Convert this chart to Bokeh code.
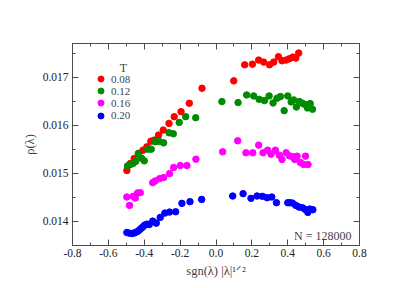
from bokeh.plotting import figure
from bokeh.models import (Range1d, FixedTicker, PrintfTickFormatter, LinearAxis, Label,
                          Legend, LegendItem, CustomJSTickFormatter)
from bokeh.embed import file_html
from bokeh.resources import INLINE

# ---- data ----
temps = ["0.08", "0.12", "0.16", "0.20"]
colors = ["#ff0000", "#008b00", "#ff00ff", "#0000ff"]

x_008 = [-0.497, -0.478, -0.456, -0.432, -0.407, -0.385, -0.363, -0.344, -0.320, -0.294,
         -0.262, -0.233, -0.195, -0.149, -0.078, 0.099, 0.160, 0.203, 0.238, 0.266,
         0.298, 0.322, 0.348, 0.368, 0.391, 0.409, 0.428, 0.445, 0.461]
y_008 = [0.015058, 0.015204, 0.015308, 0.015413, 0.015482, 0.015552, 0.015670, 0.015691, 0.015796, 0.015900,
         0.016039, 0.016178, 0.016283, 0.016457, 0.016770, 0.016923, 0.017257, 0.017271, 0.017355, 0.017313,
         0.017257, 0.017313, 0.017424, 0.017341, 0.017355, 0.017382, 0.017417, 0.017396, 0.017501]

x_012 = [-0.493, -0.478, -0.463, -0.448, -0.433, -0.415, -0.400, -0.380, -0.361, -0.339,
         -0.316, -0.292, -0.262, -0.238, -0.205, -0.169, -0.113, 0.033, 0.123, 0.171,
         0.210, 0.240, 0.270, 0.296, 0.318, 0.340, 0.359, 0.380, 0.400, 0.419,
         0.433, 0.448, 0.465, 0.482, 0.497, 0.510, 0.525, 0.538]
y_012 = [0.015155, 0.015183, 0.015204, 0.015246, 0.015413, 0.015315, 0.015260, 0.015503, 0.015503, 0.015656,
         0.015663, 0.015635, 0.015844, 0.015823, 0.016060, 0.016178, 0.016157, 0.016492, 0.016471, 0.016631,
         0.016610, 0.016540, 0.016513, 0.016610, 0.016464, 0.016561, 0.016596, 0.016304, 0.016610, 0.016485,
         0.016527, 0.016380, 0.016492, 0.016457, 0.016429, 0.016360, 0.016450, 0.016332]

x_016 = [-0.497, -0.482, -0.462, -0.450, -0.437, -0.422, -0.353, -0.339, -0.314, -0.292,
         -0.259, -0.236, -0.199, -0.162, -0.112, 0.037, 0.121, 0.167, 0.205, 0.238,
         0.262, 0.288, 0.307, 0.331, 0.353, 0.368, 0.391, 0.409, 0.428, 0.439,
         0.452, 0.471, 0.489, 0.499, 0.513]
y_016 = [0.014508, 0.014334, 0.014522, 0.014487, 0.014592, 0.014599, 0.014807, 0.014842, 0.014891, 0.014912,
         0.014995, 0.015121, 0.015162, 0.015162, 0.015295, 0.015448, 0.015677, 0.015427, 0.015427, 0.015587,
         0.015427, 0.015482, 0.015399, 0.015482, 0.015378, 0.015288, 0.015427, 0.015364, 0.015343, 0.015288,
         0.015357, 0.015225, 0.015183, 0.015357, 0.015183]

x_020 = [-0.497, -0.482, -0.467, -0.454, -0.441, -0.430, -0.420, -0.409, -0.398, -0.385,
         -0.372, -0.353, -0.333, -0.311, -0.285, -0.259, -0.225, -0.190, -0.145, -0.080,
         0.093, 0.151, 0.195, 0.229, 0.259, 0.285, 0.311, 0.337, 0.400, 0.411,
         0.426, 0.445, 0.463, 0.482, 0.497, 0.512, 0.523, 0.540]
y_020 = [0.013770, 0.013756, 0.013749, 0.013763, 0.013784, 0.013812, 0.013847, 0.013882, 0.013923, 0.013944,
         0.013937, 0.014007, 0.013965, 0.014084, 0.014174, 0.014195, 0.014202, 0.014376, 0.014411, 0.014459,
         0.014529, 0.014578, 0.014480, 0.014529, 0.014522, 0.014494, 0.014508, 0.014390, 0.014390, 0.014390,
         0.014383, 0.014334, 0.014299, 0.014285, 0.014250, 0.014188, 0.014257, 0.014244]

x_ticks = [-0.8, -0.6, -0.4, -0.2, 0.0, 0.2, 0.4, 0.6, 0.8]
x_minor = [-0.7, -0.5, -0.3, -0.1, 0.1, 0.3, 0.5, 0.7]
y_ticks = [0.014, 0.015, 0.016, 0.017]
y_minor = [0.0135, 0.0145, 0.0155, 0.0165, 0.0175]

FONT = "Liberation Serif"
AX = "#4d4d4d"

p = figure(width=400, height=285, output_backend="svg", toolbar_location=None,
           x_range=Range1d(-0.8, 0.8), y_range=Range1d(0.0135, 0.0177),
           min_border_left=72, min_border_right=41, min_border_top=43, min_border_bottom=40)
p.grid.visible = False
p.outline_line_color = AX
p.background_fill_color = "white"

xt = FixedTicker(ticks=x_ticks, minor_ticks=x_minor)
yt = FixedTicker(ticks=y_ticks, minor_ticks=y_minor)

def style_axis(ax, ticker):
    ax.ticker = ticker
    ax.axis_line_color = AX
    ax.major_tick_line_color = AX
    ax.minor_tick_line_color = AX
    ax.major_tick_in = 6
    ax.major_tick_out = 0
    ax.minor_tick_in = 3
    ax.minor_tick_out = 0
    ax.major_label_text_font = FONT
    ax.major_label_text_font_size = "11.5px"
    ax.major_label_text_color = "#222222"

style_axis(p.xaxis[0], xt)
p.xaxis[0].formatter = PrintfTickFormatter(format="%.1f")
p.xaxis[0].major_label_standoff = 3
p.xaxis[0].axis_label = "sgn(λ) |λ|¹ᐟ²"
p.xaxis[0].axis_label_text_font = FONT
p.xaxis[0].axis_label_text_font_style = "normal"
p.xaxis[0].axis_label_text_font_size = "12.5px"
p.xaxis[0].axis_label_standoff = 4

style_axis(p.yaxis[0], yt)
p.yaxis[0].formatter = PrintfTickFormatter(format="%.3f")
p.yaxis[0].major_label_standoff = 4
p.yaxis[0].axis_label = "ρ(λ)"
p.yaxis[0].axis_label_text_font = FONT
p.yaxis[0].axis_label_text_font_style = "normal"
p.yaxis[0].axis_label_text_font_size = "12.5px"
p.yaxis[0].axis_label_standoff = 3

blank = CustomJSTickFormatter(code="return ''")
top = LinearAxis()
style_axis(top, xt)
top.formatter = blank
p.add_layout(top, "above")
right = LinearAxis()
style_axis(right, yt)
right.formatter = blank
p.add_layout(right, "right")

series = [(x_008, y_008), (x_012, y_012), (x_016, y_016), (x_020, y_020)]
legend_bottoms = [159.0, 146.8, 134.6, 122.4]
for (xs, ys), c, t, lb in zip(series, colors, temps, legend_bottoms):
    r = p.scatter(xs, ys, size=6.5, fill_color=c, line_color=c, marker="circle")
    lg = Legend(items=[LegendItem(label=t, renderers=[r])], location=(21, lb),
                border_line_alpha=0, background_fill_alpha=0, padding=0, margin=0,
                spacing=0, glyph_width=15, glyph_height=15, label_height=11,
                label_standoff=3, label_text_font=FONT, label_text_font_size="11px",
                label_text_baseline="middle")
    p.add_layout(lg)

p.add_layout(Label(x=-0.516, y=0.017194, text="T", text_align="center",
                   text_font=FONT, text_font_size="12px", text_baseline="alphabetic"))
p.add_layout(Label(x=0.755, y=0.013694, text="N = 128000", text_align="right",
                   text_font=FONT, text_font_size="12px", text_baseline="alphabetic"))

open("out.html", "w").write(file_html(p, INLINE))
